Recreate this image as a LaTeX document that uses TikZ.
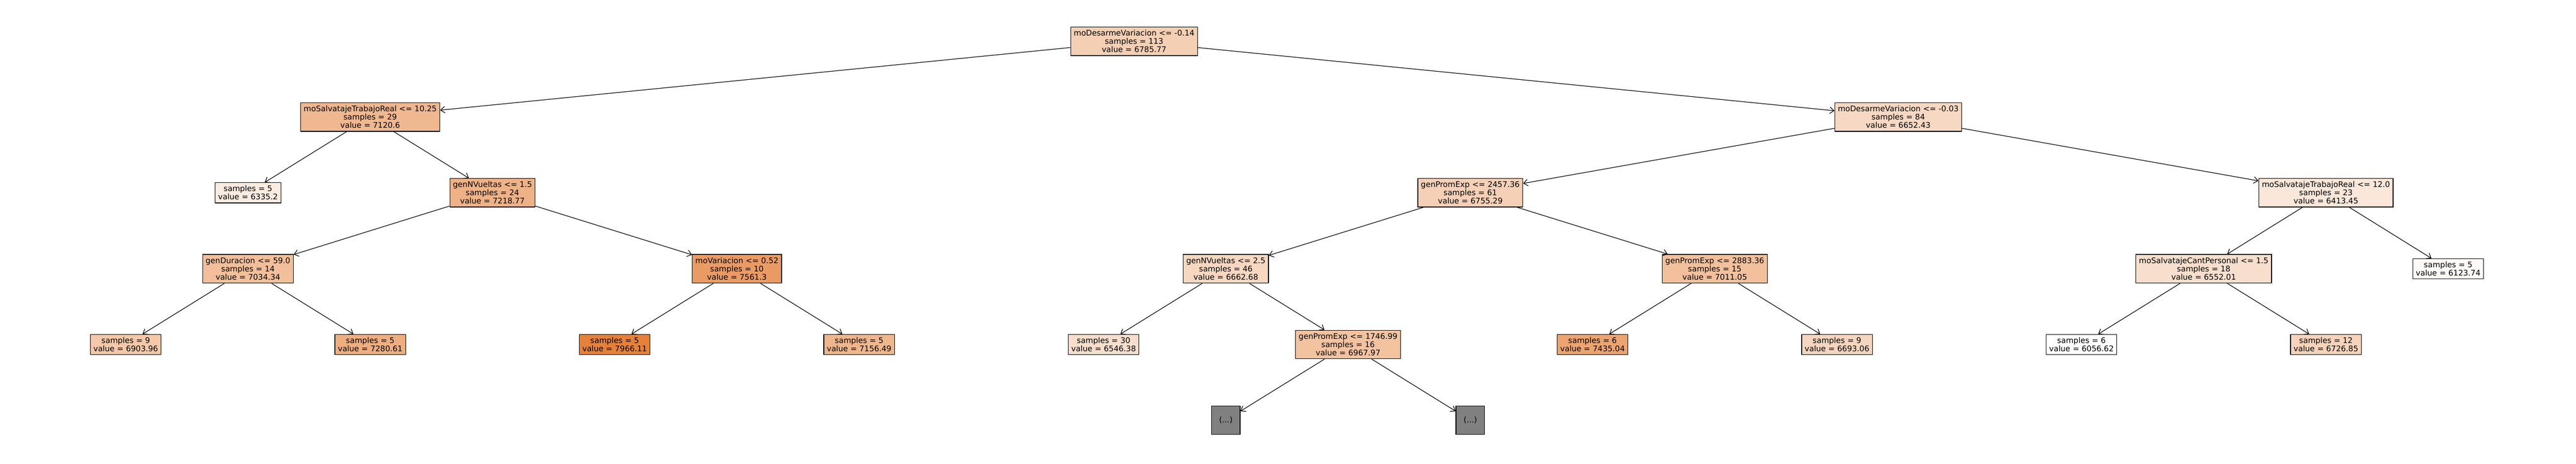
\documentclass[tikz,border=0pt]{standalone}
\usepackage{fontspec}
\setmainfont{DejaVu Sans}
\usetikzlibrary{arrows.meta}
\definecolor{treeorange}{RGB}{229,129,57}

\begin{document}
\begin{tikzpicture}[
    % Node styles
    split/.style={rectangle, draw=black, line width=0.8pt, text centered, align=center,
                  inner xsep=0.13cm, inner ysep=1pt, minimum height=1.22cm,
                  font=\fontsize{9.4}{10}\selectfont},
    leaf/.style={split, minimum height=0.86cm},
    hidden/.style={split, fill=gray, minimum width=1.22cm},
    arrow/.style={line width=0.75pt, -{Straight Barb[length=0.18cm, width=0.28cm]}, black}
]
\useasboundingbox (0,0) rectangle (109.8,-19.78);

% 0. Root
\node[split, fill=treeorange!38!white] (root) at (48.34,-1.76) {
    moDesarmeVariacion <= -0.14\\ samples = 113\\ value = 6785.77
};

% 1. First split
\node[split, fill=treeorange!56!white] (salvA) at (15.78,-4.99) {
    moSalvatajeTrabajoReal <= 10.25\\ samples = 29\\ value = 7120.6
};
\node[split, fill=treeorange!31!white] (desarme) at (80.91,-4.99) {
    moDesarmeVariacion <= -0.03\\ samples = 84\\ value = 6652.43
};

% 2. Second level
\node[leaf, fill=treeorange!15!white] (leafA) at (10.57,-8.22) {
    samples = 5\\ value = 6335.2
};
\node[split, fill=treeorange!61!white] (vueltasA) at (20.99,-8.22) {
    genNVueltas <= 1.5\\ samples = 24\\ value = 7218.77
};
\node[split, fill=treeorange!37!white] (promA) at (62.67,-8.22) {
    genPromExp <= 2457.36\\ samples = 61\\ value = 6755.29
};
\node[split, fill=treeorange!19!white] (salvB) at (99.14,-8.22) {
    moSalvatajeTrabajoReal <= 12.0\\ samples = 23\\ value = 6413.45
};

% 3. Third level
\node[split, fill=treeorange!51!white] (duracion) at (10.57,-11.46) {
    genDuracion <= 59.0\\ samples = 14\\ value = 7034.34
};
\node[split, fill=treeorange!79!white] (variacion) at (31.41,-11.46) {
    moVariacion <= 0.52\\ samples = 10\\ value = 7561.3
};
\node[split, fill=treeorange!32!white] (vueltasB) at (52.25,-11.46) {
    genNVueltas <= 2.5\\ samples = 46\\ value = 6662.68
};
\node[split, fill=treeorange!50!white] (promB) at (73.09,-11.46) {
    genPromExp <= 2883.36\\ samples = 15\\ value = 7011.05
};
\node[split, fill=treeorange!26!white] (cantpers) at (93.93,-11.46) {
    moSalvatajeCantPersonal <= 1.5\\ samples = 18\\ value = 6552.01
};
\node[leaf, fill=treeorange!4!white] (leafB) at (104.35,-11.46) {
    samples = 5\\ value = 6123.74
};

% 4. Fourth level
\node[leaf, fill=treeorange!44!white] (leafC) at (5.36,-14.69) {
    samples = 9\\ value = 6903.96
};
\node[leaf, fill=treeorange!64!white] (leafD) at (15.78,-14.69) {
    samples = 5\\ value = 7280.61
};
\node[leaf, fill=treeorange] (leafE) at (26.20,-14.69) {
    samples = 5\\ value = 7966.11
};
\node[leaf, fill=treeorange!58!white] (leafF) at (36.62,-14.69) {
    samples = 5\\ value = 7156.49
};
\node[leaf, fill=treeorange!26!white] (leafG) at (47.04,-14.69) {
    samples = 30\\ value = 6546.38
};
\node[split, fill=treeorange!48!white] (promC) at (57.46,-14.69) {
    genPromExp <= 1746.99\\ samples = 16\\ value = 6967.97
};
\node[leaf, fill=treeorange!72!white] (leafH) at (67.88,-14.69) {
    samples = 6\\ value = 7435.04
};
\node[leaf, fill=treeorange!33!white] (leafI) at (78.30,-14.69) {
    samples = 9\\ value = 6693.06
};
\node[leaf, fill=white] (leafJ) at (88.72,-14.69) {
    samples = 6\\ value = 6056.62
};
\node[leaf, fill=treeorange!35!white] (leafK) at (99.14,-14.69) {
    samples = 12\\ value = 6726.85
};

% 5. Truncated branches
\node[hidden] (hidA) at (52.25,-17.92) {(...)};
\node[hidden] (hidB) at (62.67,-17.92) {(...)};

% Left half
\draw[arrow] (root) -- (salvA);
\draw[arrow] (salvA) -- (leafA);
\draw[arrow] (salvA) -- (vueltasA);
\draw[arrow] (vueltasA) -- (duracion);
\draw[arrow] (vueltasA) -- (variacion);
\draw[arrow] (duracion) -- (leafC);
\draw[arrow] (duracion) -- (leafD);
\draw[arrow] (variacion) -- (leafE);
\draw[arrow] (variacion) -- (leafF);

% Right half
\draw[arrow] (root) -- (desarme);
\draw[arrow] (desarme) -- (promA);
\draw[arrow] (desarme) -- (salvB);
\draw[arrow] (promA) -- (vueltasB);
\draw[arrow] (promA) -- (promB);
\draw[arrow] (vueltasB) -- (leafG);
\draw[arrow] (vueltasB) -- (promC);
\draw[arrow] (promC) -- (hidA);
\draw[arrow] (promC) -- (hidB);
\draw[arrow] (promB) -- (leafH);
\draw[arrow] (promB) -- (leafI);
\draw[arrow] (salvB) -- (cantpers);
\draw[arrow] (salvB) -- (leafB);
\draw[arrow] (cantpers) -- (leafJ);
\draw[arrow] (cantpers) -- (leafK);

\end{tikzpicture}
\end{document}
